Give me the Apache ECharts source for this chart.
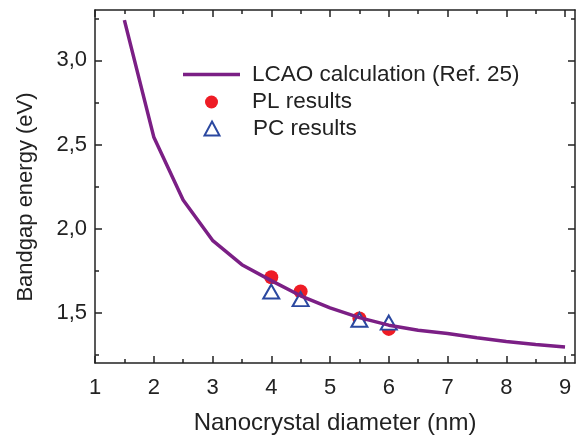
<!DOCTYPE html>
<html>
<head>
<meta charset="utf-8">
<script src="https://cdn.jsdelivr.net/npm/echarts@6/dist/echarts.min.js"></script>
<style>
html, body { margin: 0; padding: 0; background: #fff; }
#container { width: 576px; height: 436px; }
</style>
</head>
<body>
<div id="container"></div>
<script>
var dom = document.getElementById("container");
var myChart = echarts.init(dom);

// LCAO calculation (Ref. 25)
var lcaoX = [1.5, 2, 2.5, 3, 3.5, 4, 4.5, 5, 5.5, 6, 6.5, 7, 7.5, 8, 8.5, 9];
var lcaoY = [3.24, 2.545, 2.17, 1.93, 1.785, 1.69, 1.60, 1.528, 1.47, 1.425, 1.395, 1.375, 1.35, 1.328, 1.31, 1.295];
// PL results
var plX = [4, 4.5, 5.5, 6];
var plY = [1.71, 1.625, 1.465, 1.403];
// PC results
var pcX = [4, 4.5, 5.5, 6];
var pcY = [1.625, 1.58, 1.457, 1.44];

var xMajor = [1, 2, 3, 4, 5, 6, 7, 8, 9];
var xMinor = [1.5, 2.5, 3.5, 4.5, 5.5, 6.5, 7.5, 8.5];
var yMajor = [1.5, 2.0, 2.5, 3.0];
var yMinor = [1.25, 1.75, 2.25, 2.75, 3.25];

var xMin = 1, xMax = 9.17;
var yMin = 1.2, yMax = 3.3;

var axisColor = '#222';
var lineColor = '#7B1F85';
var plColor = '#EE1C25';
var pcColor = '#2B48A0';
var font = 'Liberation Sans, Arial, sans-serif';

function pairs(xs, ys) {
    return xs.map(function (x, i) { return [x, ys[i]]; });
}

function xAx(pos, ticks, len, withLabel, showLine) {
    return {
        type: 'value', position: pos, min: xMin, max: xMax,
        axisLine: { show: showLine, lineStyle: { color: axisColor, width: 1.5 } },
        axisTick: { show: true, inside: true, length: len, customValues: ticks,
            lineStyle: { color: axisColor, width: 1.5 } },
        axisLabel: { show: withLabel, customValues: xMajor, margin: 14,
            color: axisColor, fontSize: 22, fontFamily: font },
        splitLine: { show: false }
    };
}

function yAx(pos, ticks, len, withLabel, showLine) {
    return {
        type: 'value', position: pos, min: yMin, max: yMax,
        axisLine: { show: showLine, lineStyle: { color: axisColor, width: 1.5 } },
        axisTick: { show: true, inside: true, length: len, customValues: ticks,
            lineStyle: { color: axisColor, width: 1.5 } },
        axisLabel: { show: withLabel, customValues: yMajor, margin: 8,
            color: axisColor, fontSize: 22, fontFamily: font,
            formatter: function (v) { return v.toFixed(1).replace('.', ','); } },
        splitLine: { show: false }
    };
}

var xMain = xAx('bottom', xMajor, 7, true, true);
xMain.name = 'Nanocrystal diameter (nm)';
xMain.nameLocation = 'middle';
xMain.nameGap = 48;
xMain.nameTextStyle = { color: axisColor, fontSize: 24, fontFamily: font };

var yMain = yAx('left', yMajor, 7, true, true);
yMain.name = 'Bandgap energy (eV)';
yMain.nameLocation = 'middle';
yMain.nameGap = 58;
yMain.nameTextStyle = { color: axisColor, fontSize: 22, fontFamily: font, padding: [0, 21, 0, 0] };

function legendText(padLeft) {
    return { color: axisColor, fontSize: 22.5, fontFamily: font, padding: [0, 0, 0, padLeft] };
}

var option = {
    animation: false,
    grid: { left: 95, right: 1, top: 10, bottom: 73, outerBoundsMode: 'none', containLabel: false },
    legend: [
        {
            left: 183, top: 63, padding: 0,
            itemWidth: 57, itemHeight: 3.5,
            textStyle: legendText(7),
            data: [{ name: 'LCAO calculation (Ref. 25)', icon: 'rect', itemStyle: { color: lineColor } }]
        },
        {
            left: 205, top: 90.5, padding: 0,
            itemWidth: 13, itemHeight: 13,
            textStyle: legendText(29),
            data: [{ name: 'PL results', icon: 'circle' }]
        },
        {
            left: 203.5, top: 117, padding: 0,
            itemWidth: 15, itemHeight: 14,
            textStyle: legendText(28.5),
            data: [{ name: 'PC results', icon: 'triangle' }]
        }
    ],
    xAxis: [
        xMain,
        xAx('bottom', xMinor, 4, false, false),
        xAx('top', xMajor, 7, false, true),
        xAx('top', xMinor, 4, false, false)
    ],
    yAxis: [
        yMain,
        yAx('left', yMinor, 4, false, false),
        yAx('right', yMajor, 7, false, true),
        yAx('right', yMinor, 4, false, false)
    ],
    series: [
        {
            name: 'LCAO calculation (Ref. 25)',
            type: 'line',
            symbol: 'none',
            lineStyle: { color: lineColor, width: 3.5 },
            itemStyle: { color: lineColor },
            data: pairs(lcaoX, lcaoY)
        },
        {
            name: 'PL results',
            type: 'scatter',
            symbol: 'circle',
            symbolSize: 14,
            itemStyle: { color: plColor, opacity: 1 },
            data: pairs(plX, plY)
        },
        {
            name: 'PC results',
            type: 'scatter',
            symbol: 'triangle',
            symbolSize: [16, 14],
            itemStyle: { color: '#ffffff', borderColor: pcColor, borderWidth: 2, opacity: 1 },
            data: pairs(pcX, pcY)
        }
    ]
};

if (option && typeof option === "object") {
    myChart.setOption(option, true);
}
window.addEventListener('resize', function () {
    myChart.resize();
});
</script>
</body>
</html>
